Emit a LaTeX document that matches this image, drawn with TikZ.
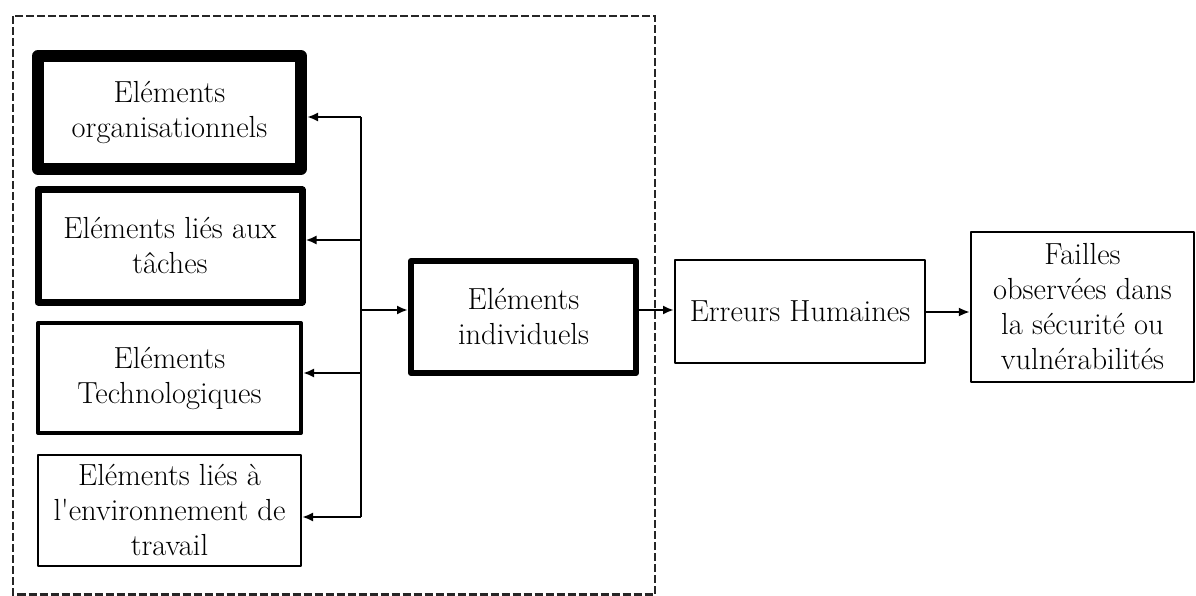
\documentclass[tikz,border=0pt]{standalone}
\usetikzlibrary{arrows.meta}
\begin{document}
\begin{tikzpicture}[x=1pt,y=-1pt,
  box/.style={draw=black, rectangle, align=center, inner sep=0pt,
    font=\fontsize{30.5}{35}\selectfont, text=black, line join=round},
  arr/.style={-{Latex[length=11pt,width=9pt]}, line width=2.5pt},
  bus/.style={line width=2.5pt},
  frame/.style={dashed, dash pattern=on 8pt off 3pt, line width=2.5pt, draw=black!85}
]
\useasboundingbox (0,0) rectangle (1196,596);
% dashed frame
\draw[frame] (13,16) rectangle (655,594.5);

% left boxes
\node[box, line width=12pt, minimum width=263pt, minimum height=113pt] (org) at (169.5,112.5) {Eléments\\organisationnels};
\node[box, line width=7pt, minimum width=264pt, minimum height=112pt] (tac) at (170,246) {Eléments liés aux\\tâches};
\node[box, line width=4pt, minimum width=263pt, minimum height=110pt] (tec) at (169.5,378) {Eléments\\Technologiques};
\node[box, line width=2pt, minimum width=263pt, minimum height=111pt] (env) at (169.5,510.5) {Eléments liés à\\l\textquotesingle environnement de\\travail};

% middle and right boxes
\node[box, line width=6pt, minimum width=225pt, minimum height=112pt] (ind) at (523.5,317) {Eléments\\individuels};
\node[box, line width=2pt, minimum width=250pt, minimum height=103pt] (err) at (800,311.5) {Erreurs Humaines};
\node[box, line width=2.2pt, minimum width=223pt, minimum height=150pt] (fai) at (1082.5,307) {Failles\\observées dans\\la sécurité ou\\vulnérabilités};

% bus coordinates
\coordinate (b1) at (361,117);
\coordinate (b2) at (361,240);
\coordinate (bi) at (361,310);
\coordinate (b3) at (361,373);
\coordinate (b4) at (361,517);

\draw[bus] (b1) -- (b4);
\draw[arr] (b1) -- (b1 -| org.east);
\draw[arr] (b2) -- (b2 -| tac.east);
\draw[arr] (b3) -- (b3 -| tec.east);
\draw[arr] (b4) -- (b4 -| env.east);
\draw[arr] (bi) -- (bi -| ind.west);

\coordinate (c1) at (636,310);
\draw[arr] (c1 -| ind.east) -- (c1 -| err.west);
\coordinate (c2) at (926,312);
\draw[arr] (c2 -| err.east) -- (c2 -| fai.west);
\end{tikzpicture}
\end{document}
